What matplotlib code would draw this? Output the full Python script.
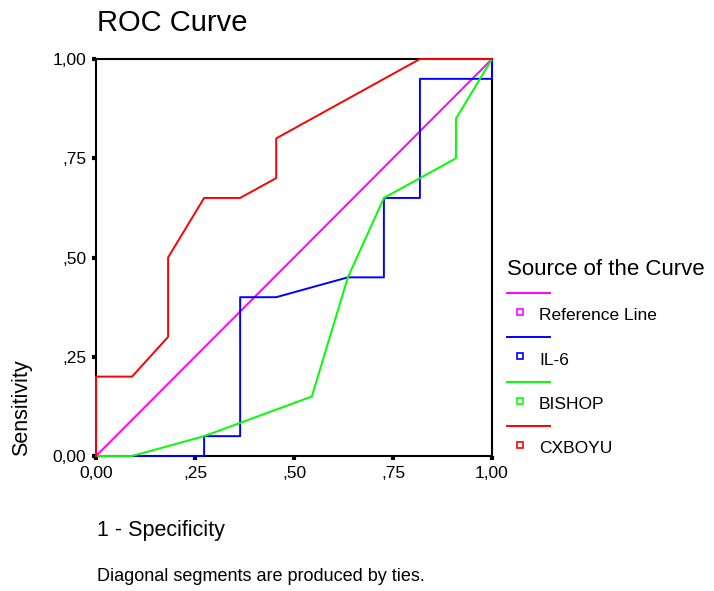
import matplotlib.pyplot as plt
from matplotlib.lines import Line2D
from matplotlib.ticker import FuncFormatter

plt.rcParams['font.family'] = ['Liberation Sans', 'DejaVu Sans']

ref_x = [0.0, 1.0]
ref_y = [0.0, 1.0]

il6_x = [0.0, 0.273, 0.273, 0.364, 0.364, 0.455, 0.636, 0.727, 0.727, 0.818, 0.818, 1.0, 1.0]
il6_y = [0.0, 0.0, 0.05, 0.05, 0.40, 0.40, 0.45, 0.45, 0.65, 0.65, 0.95, 0.95, 1.0]

bishop_x = [0.0, 0.091, 0.273, 0.545, 0.636, 0.727, 0.909, 0.909, 1.0]
bishop_y = [0.0, 0.0, 0.05, 0.15, 0.45, 0.65, 0.75, 0.85, 1.0]

cxboyu_x = [0.0, 0.0, 0.091, 0.182, 0.182, 0.273, 0.364, 0.455, 0.455, 0.818, 1.0]
cxboyu_y = [0.0, 0.20, 0.20, 0.30, 0.50, 0.65, 0.65, 0.70, 0.80, 1.0, 1.0]

names = ['Reference Line', 'IL-6', 'BISHOP', 'CXBOYU']
colors = ['#ff00ff', '#0000ff', '#00ff00', '#ff0000']
series = [(ref_x, ref_y), (il6_x, il6_y), (bishop_x, bishop_y), (cxboyu_x, cxboyu_y)]
ticks = [0.0, 0.25, 0.5, 0.75, 1.0]

W, H = 714, 591


def fx(px):
    return px / W


def fy(py):
    return 1 - py / H


def tick_fmt(v, pos):
    s = f"{v:.2f}".replace('.', ',')
    if s.startswith('0,') and v != 0:
        s = s[1:]
    return s


fig = plt.figure(figsize=(W / 100, H / 100), dpi=100)
ax = fig.add_axes([fx(96), fy(456), fx(492) - fx(96), fy(59) - fy(456)])

for (x, y), c in zip(series, colors):
    ax.plot(x, y, color=c, linewidth=1.4, clip_on=False, zorder=3)

ax.set_xlim(0, 1)
ax.set_ylim(0, 1)
ax.set_xticks(ticks)
ax.set_yticks(ticks)
ax.xaxis.set_major_formatter(FuncFormatter(tick_fmt))
ax.yaxis.set_major_formatter(FuncFormatter(tick_fmt))
ax.tick_params(direction='out', length=3, width=3, labelsize=12.5, pad=4, color='black')
for sp in ax.spines.values():
    sp.set_linewidth(1.5)
    sp.set_color('black')

# Titres et etiquettes
fig.text(fx(97), fy(31), 'ROC Curve', fontsize=21, ha='left', va='baseline')
fig.text(fx(22), fy(456), 'Sensitivity', fontsize=15.5, rotation=90, ha='center', va='bottom')
fig.text(fx(97), fy(536), '1 - Specificity', fontsize=15.5, ha='left', va='baseline')
fig.text(fx(97), fy(581), 'Diagonal segments are produced by ties.', fontsize=13,
         ha='left', va='baseline')

# Legende dessinee a la main
fig.text(fx(507), fy(275), 'Source of the Curve', fontsize=16, ha='left', va='baseline')
step = 44.3
for i, (name, c) in enumerate(zip(names, colors)):
    y_line = 293 + i * step
    fig.add_artist(Line2D([fx(507), fx(550)], [fy(y_line), fy(y_line)],
                          transform=fig.transFigure, color=c, linewidth=1.4))
    fig.add_artist(Line2D([fx(520)], [fy(y_line + 19)], transform=fig.transFigure,
                          marker='s', markersize=5, markerfacecolor='white',
                          markeredgecolor=c, markeredgewidth=1.2, linestyle='none'))
    fig.text(fx(539), fy(y_line + 23), name, fontsize=12.5, ha='left', va='center')

fig.savefig('out.png', dpi=100)
